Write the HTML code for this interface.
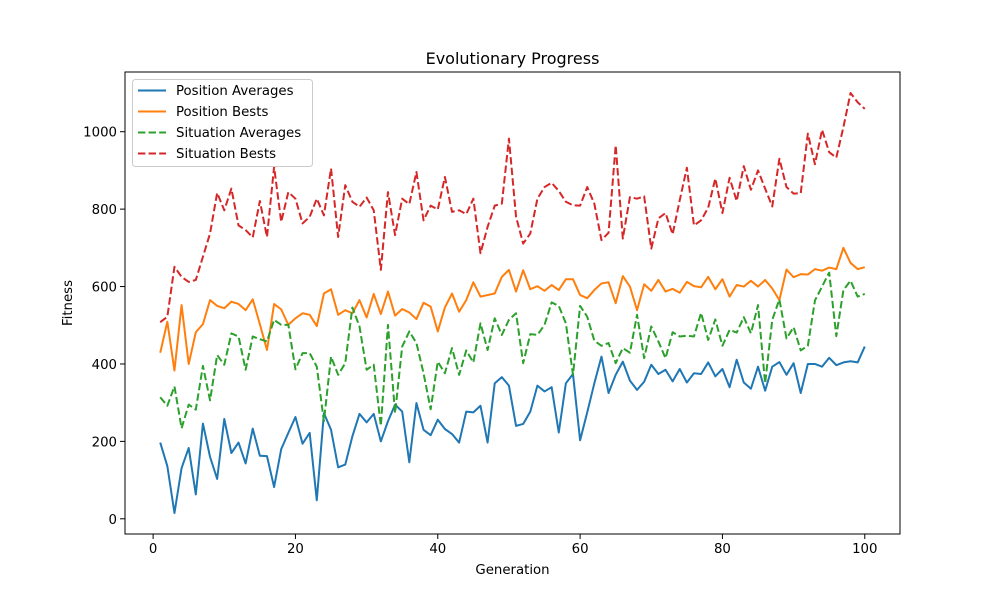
<!DOCTYPE html>
<html><head><meta charset="utf-8"><style>
body{margin:0;background:#fff}
svg text{font-family:"DejaVu Sans","Liberation Sans",sans-serif;fill:#000}
</style></head><body>
<svg id="chart" width="1000" height="600" xmlns="http://www.w3.org/2000/svg">
<rect width="1000" height="600" fill="#fff"/>
<text x="512.5" y="64" font-size="16" text-anchor="middle">Evolutionary Progress</text>
<text x="512.5" y="574" font-size="13.3" text-anchor="middle">Generation</text>
<text transform="translate(72,303) rotate(-90)" font-size="13.3" text-anchor="middle">Fitness</text>
<g id="plot"></g>
</svg>
<script>
const generations = Array.from({length:100},(_, i)=>i+1);
const positionAverages = [197,136,15,131,183,63,246,160,103,258,170,197,143,233,163,162,82,180,222,263,194,
222,48,273,230,133,140,213,271,249,271,200,252,295,277,146,299,230,216,256,232,219,197,277,275,292,197,350,
366,344,240,245,277,344,329,340,223,350,374,203,275,350,419,325,372,406,357,333,354,398,374,385,355,387,352,
376,374,404,368,387,340,411,352,336,393,331,393,405,372,402,325,400,400,393,416,397,404,407,404,445];
const positionBests = [429,509,383,552,400,482,503,565,550,544,561,555,539,567,503,436,555,541,501,518,531,
527,498,582,593,527,539,531,565,520,581,529,587,525,542,533,516,558,548,484,546,582,535,565,611,574,578,582,
625,643,587,642,593,601,589,604,591,619,619,578,570,591,608,611,557,627,600,539,606,589,617,587,594,584,612,
601,598,625,593,619,574,604,600,615,600,617,595,565,644,624,632,631,645,641,649,645,700,661,645,650];
const situationAverages = [314,292,342,234,295,282,395,306,423,398,479,471,385,471,464,458,514,501,501,386,428,
428,393,252,419,372,402,546,497,385,398,240,501,273,445,484,454,376,283,406,376,441,372,435,404,505,436,518,
475,514,531,402,477,475,501,559,550,505,372,550,522,460,447,454,402,441,429,527,415,497,458,415,482,471,473,
471,532,462,515,447,488,481,521,479,552,350,514,567,466,495,435,447,564,600,636,472,591,615,574,581];
const situationBests = [508,522,651,625,612,617,677,737,842,797,853,758,746,727,821,728,909,767,844,827,763,
780,827,784,905,728,862,819,806,830,797,643,844,733,827,813,896,771,809,799,883,793,797,787,827,686,754,809,
814,982,780,711,737,827,857,868,847,819,810,809,857,814,720,739,965,724,831,827,833,698,776,790,735,823,907,
758,771,804,879,790,881,821,911,850,900,853,807,930,857,840,841,995,916,1005,947,933,1012,1100,1076,1059];
const xTicks = [0,20,40,60,80,100];
const yTicks = [0,200,400,600,800,1000];
const seriesNames = ["Position Averages","Position Bests","Situation Averages","Situation Bests"];

const NS="http://www.w3.org/2000/svg";
const L=125,R=900,T=72,B=534;
const xmin0=Math.min(...generations),xmax0=Math.max(...generations),xm=(xmax0-xmin0)*0.05;
const XD=[xmin0-xm,xmax0+xm];
const all=[].concat(positionAverages,positionBests,situationAverages,situationBests);
const ymin0=Math.min(...all),ymax0=Math.max(...all),ym=(ymax0-ymin0)*0.05;
const YD=[ymin0-ym,ymax0+ym];
const xs=v=>L+(v-XD[0])/(XD[1]-XD[0])*(R-L);
const ys=v=>B-(v-YD[0])/(YD[1]-YD[0])*(B-T);
const g=document.getElementById('plot');
function mk(tag,attrs,parent){const e=document.createElementNS(NS,tag);for(const k in attrs)e.setAttribute(k,attrs[k]);(parent||g).appendChild(e);return e;}

const series=[
 {data:positionAverages,color:"#1f77b4",dash:null,name:"series-position-averages"},
 {data:positionBests,color:"#ff7f0e",dash:null,name:"series-position-bests"},
 {data:situationAverages,color:"#2ca02c",dash:"7.4,3.2",name:"series-situation-averages"},
 {data:situationBests,color:"#d62728",dash:"7.4,3.2",name:"series-situation-bests"}];
series.forEach(s=>{
  const d=s.data.map((v,i)=>(i?'L':'M')+xs(generations[i]).toFixed(2)+','+ys(v).toFixed(2)).join('');
  const p=mk('path',{d:d,fill:'none',stroke:s.color,'stroke-width':2,'stroke-linejoin':'round'});
  if(s.dash)p.setAttribute('stroke-dasharray',s.dash);
  
  
});
// axes frame
const frame=mk('rect',{x:L,y:T,width:R-L,height:B-T,fill:'none',stroke:'#000','stroke-width':1});


xTicks.forEach(t=>{
  const x=xs(t);
  const tl=mk('line',{x1:x,x2:x,y1:B,y2:B+5,stroke:'#000','stroke-width':1});
  
  
  const tx=mk('text',{x:x,y:B+19,'font-size':13.3,'text-anchor':'middle'});
  tx.textContent=t;
  
  
});
yTicks.forEach(t=>{
  const y=ys(t);
  const tl=mk('line',{x1:L-5,x2:L,y1:y,y2:y,stroke:'#000','stroke-width':1});
  
  
  const tx=mk('text',{x:L-8,y:y+5,'font-size':13.3,'text-anchor':'end'});
  tx.textContent=t;
  
  
});
// legend
const lg=mk('g',{});


mk('rect',{x:132.5,y:79.5,width:180,height:87,rx:3,fill:'#fff','fill-opacity':0.8,stroke:'#ccc','stroke-width':1},lg);
series.forEach((s,i)=>{
  const y=90.5+i*21;
  const e=mk('g',{},lg);
  
  
  const ln=mk('line',{x1:138,x2:166,y1:y,y2:y,stroke:s.color,'stroke-width':2},e);
  if(s.dash)ln.setAttribute('stroke-dasharray',s.dash);
  const tx=mk('text',{x:176,y:y+4.7,'font-size':13.3},e);
  tx.textContent=seriesNames[i];
});
</script>
</body></html>
